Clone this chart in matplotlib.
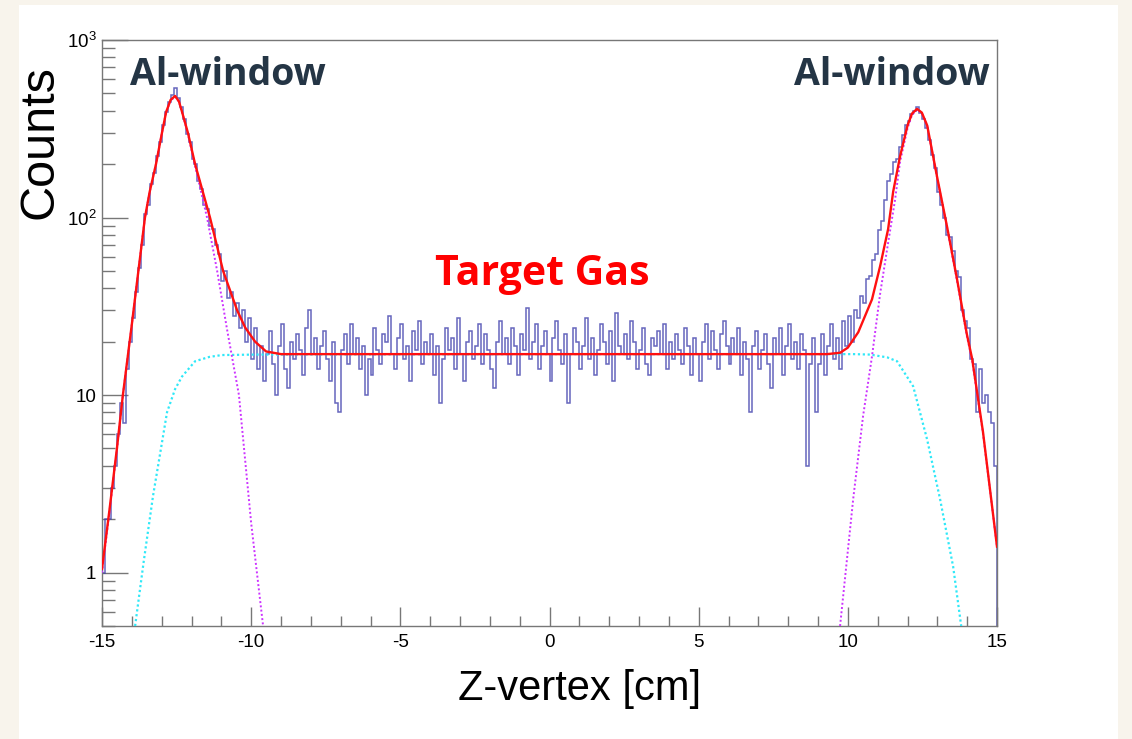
import numpy as np
import matplotlib
matplotlib.use('Agg')
import matplotlib.pyplot as plt
from matplotlib.patches import Rectangle
from matplotlib.ticker import LogLocator, MultipleLocator, NullFormatter

# histogram: 300 bins of 0.1 cm between -15 and 15
bin_lo = -15.0
bin_hi = 15.0
counts = [
    # -15.0 .. -9.5 (left Al-window peak)
    1, 2, 2, 3, 4, 6, 9, 7, 14, 20,
    27, 38, 52, 70, 104, 118, 155, 178, 222, 265,
    330, 395, 450, 490, 540, 470, 420, 360, 295, 265,
    215, 200, 160, 145, 118, 112, 90, 86, 70, 62,
    44, 50, 35, 38, 28, 33, 24, 30, 20, 27,
    16, 24, 14, 19, 12,
    # -9.5 .. 9.0 (target gas)
    17, 23, 15, 10, 19, 25, 14, 11, 20, 16,
    22, 18, 13, 24, 30, 17, 21, 14, 19, 23,
    16, 12, 20, 9, 8, 18, 22, 15, 25, 17,
    21, 14, 19, 10, 16, 13, 24, 18, 15, 22,
    20, 28, 17, 14, 21, 25, 16, 19, 12, 23,
    18, 26, 15, 20, 17, 22, 13, 19, 9, 16,
    24, 18, 21, 14, 27, 17, 12, 20, 23, 16,
    19, 25, 15, 22, 18, 14, 11, 20, 26, 17,
    21, 15, 24, 19, 13, 22, 18, 31, 16, 20,
    25, 14, 19, 23, 17, 12, 21, 26, 18, 15,
    22, 9, 17, 24, 20, 14, 19, 27, 16, 21,
    13, 18, 25, 20, 15, 23, 12, 29, 19, 17,
    22, 16, 26, 20, 14, 18, 24, 15, 13, 21,
    19, 23, 17, 25, 14, 20, 16, 22, 18, 15,
    24, 19, 13, 21, 17, 12, 20, 25, 16, 23,
    18, 14, 22, 26, 19, 15, 21, 17, 24, 13,
    20, 16, 8, 19, 23, 14, 18, 22, 15, 11,
    21, 17, 24, 13, 19, 25, 16, 20, 14, 22,
    18, 4, 15, 21, 8,
    # 9.0 .. 15.0 (right Al-window peak)
    15, 22, 13, 19, 25, 16, 21, 14, 26, 19,
    28, 20, 30, 27, 36, 33, 45, 47, 58, 62,
    85, 95, 125, 160, 175, 205, 215, 250, 290, 330,
    350, 385, 400, 420, 390, 360, 320, 275, 225, 190,
    140, 118, 100, 80, 78, 65, 50, 46, 30, 26,
    24, 16, 15, 8, 14, 9, 10, 8, 7, 4,
]

# total fit (red)
fit_x = [-15.0, -14.75, -14.5, -14.3, -14.0, -13.75, -13.56, -13.4, -13.19, -12.99,
         -12.85, -12.7, -12.55, -12.42, -12.32, -12.12, -11.88, -11.38, -10.94, -10.47,
         -10.2, -9.87, -9.5, -9.0, 0.0, 9.3, 9.74, 10.0, 10.35, 10.81,
         11.08, 11.35, 11.52, 11.75, 12.0, 12.15, 12.32, 12.48, 12.66, 12.99,
         13.33, 13.66, 13.99, 14.17, 14.53, 15.0]
fit_y = [1.05, 2.25, 5.0, 10, 25, 55, 100, 140, 200, 300,
         393, 460, 484, 450, 395, 300, 200, 100, 50, 30,
         24, 20, 17.6, 17.0, 17.0, 17.0, 17.3, 18.5, 22.6, 34.6,
         53, 86, 140, 221, 330, 385, 409, 390, 330, 170,
         88, 45, 22, 15.9, 6.2, 1.4]

# window peaks (magenta dotted)
peak_l_x = [-15.0, -14.75, -14.5, -14.3, -14.0, -13.75, -13.56, -13.4, -13.19, -12.99,
            -12.85, -12.7, -12.55, -12.42, -12.32, -12.12, -11.88, -11.48, -11.14, -10.81,
            -10.41, -10.0, -9.6]
peak_l_y = [1.0, 2.2, 4.9, 10, 25, 55, 100, 140, 200, 300,
            393, 455, 480, 450, 393, 295, 195, 100, 50, 23.5,
            10, 1.9, 0.5]
peak_r_x = [9.74, 10.18, 10.51, 10.81, 11.08, 11.35, 11.58, 11.75, 12.0, 12.15,
            12.32, 12.48, 12.66, 12.99, 13.33, 13.66, 13.99, 14.17, 14.53, 15.0]
peak_r_y = [0.5, 2.6, 7.6, 16.5, 37, 72, 125, 206, 318, 378,
            405, 388, 328, 168, 87, 44, 21.5, 15.5, 6.1, 1.4]

# gas background (cyan dotted)
bg_x = [-13.89, -13.6, -13.29, -13.05, -12.82, -12.55, -12.32, -11.88, -11.4, -10.98,
        -9.87, 0.0, 10.2, 10.75, 11.32, 11.65, 12.19, 12.66, 13.09, 13.53, 13.8]
bg_y = [0.5, 1.16, 2.7, 4.7, 8.0, 10.8, 12.7, 15.5, 16.4, 16.8,
        16.9, 17.0, 17.0, 16.9, 16.3, 15.5, 11.2, 5.6, 2.6, 1.08, 0.5]

ytick_vals = [1, 10, 100, 1000]
ytick_text = ['1', '10', r'$10^{2}$', r'$10^{3}$']
xtick_vals = [-15, -10, -5, 0, 5, 10, 15]
xtick_text = ['-15', '-10', '-5', '0', '5', '10', '15']

plt.rcParams['mathtext.fontset'] = 'custom'
plt.rcParams['mathtext.rm'] = 'Liberation Sans'
plt.rcParams['mathtext.it'] = 'Liberation Sans'
helv = ['Liberation Sans', 'DejaVu Sans']
bold_font = ['Open Sans', 'Lato', 'DejaVu Sans']

fig = plt.figure(figsize=(11.32, 7.39), dpi=100, facecolor='#f8f4ec')
fig.patches.append(Rectangle((19 / 1132, 0), 1099 / 1132, 734 / 739,
                             transform=fig.transFigure, facecolor='white',
                             edgecolor='none', zorder=-5))
ax = fig.add_axes([102 / 1132, 1 - 626 / 739, 895 / 1132, 586 / 739])
ax.set_facecolor('white')

edges = np.linspace(bin_lo, bin_hi, len(counts) + 1)
ax.stairs(counts, edges, baseline=1e-3, color='#4040ac', lw=1.1, alpha=0.8, zorder=2)

ax.plot(bg_x, bg_y, color='#30e8f8', lw=1.6, ls=(0, (1, 1.2)), zorder=3)
ax.plot(peak_l_x, peak_l_y, color='#cc33ff', lw=1.4, ls=(0, (1, 1.2)), zorder=3)
ax.plot(peak_r_x, peak_r_y, color='#cc33ff', lw=1.4, ls=(0, (1, 1.2)), zorder=3)
ax.plot(fit_x, fit_y, color='#ff1010', lw=1.7, zorder=4)

ax.set_yscale('log')
ax.set_xlim(bin_lo, bin_hi)
ax.set_ylim(0.5, 1000)

for s in ax.spines.values():
    s.set_color('#777777')
    s.set_linewidth(1.0)

ax.set_xticks(xtick_vals)
ax.set_xticklabels(xtick_text, fontfamily=helv, fontsize=13.5)
ax.xaxis.set_minor_locator(MultipleLocator(1))
ax.set_yticks(ytick_vals)
ax.set_yticklabels(ytick_text, fontfamily=helv, fontsize=13.5)
ax.yaxis.set_minor_locator(LogLocator(base=10, subs=range(2, 10), numticks=20))
ax.yaxis.set_minor_formatter(NullFormatter())

ax.tick_params(axis='y', which='major', direction='in', length=19, width=1.0,
               color='#777777', pad=4)
ax.tick_params(axis='y', which='minor', direction='in', length=9.5, width=1.0,
               color='#777777')
ax.tick_params(axis='x', which='major', direction='in', length=14, width=1.0,
               color='#777777', pad=6)
ax.tick_params(axis='x', which='minor', direction='in', length=7, width=1.0,
               color='#777777')

ax.text(0.534, -0.107, 'Z-vertex [cm]', transform=ax.transAxes, ha='center',
        va='center', fontsize=30, family=helv)
ax.text(-0.069, 0.826, 'Counts', transform=ax.transAxes, ha='center',
        va='center', rotation=90, fontsize=35, family=helv)

ax.text(0.031, 0.923, 'Al-window', transform=ax.transAxes, ha='left',
        va='baseline', fontsize=27, fontweight='bold', color='#243545',
        family=bold_font)
ax.text(0.992, 0.923, 'Al-window', transform=ax.transAxes, ha='right',
        va='baseline', fontsize=27, fontweight='bold', color='#243545',
        family=bold_font)
ax.text(0.492, 0.582, 'Target Gas', transform=ax.transAxes, ha='center',
        va='baseline', fontsize=29.5, fontweight='bold', color='#ff0000',
        family=bold_font)

fig.savefig('out.png', dpi=100, facecolor=fig.get_facecolor())
